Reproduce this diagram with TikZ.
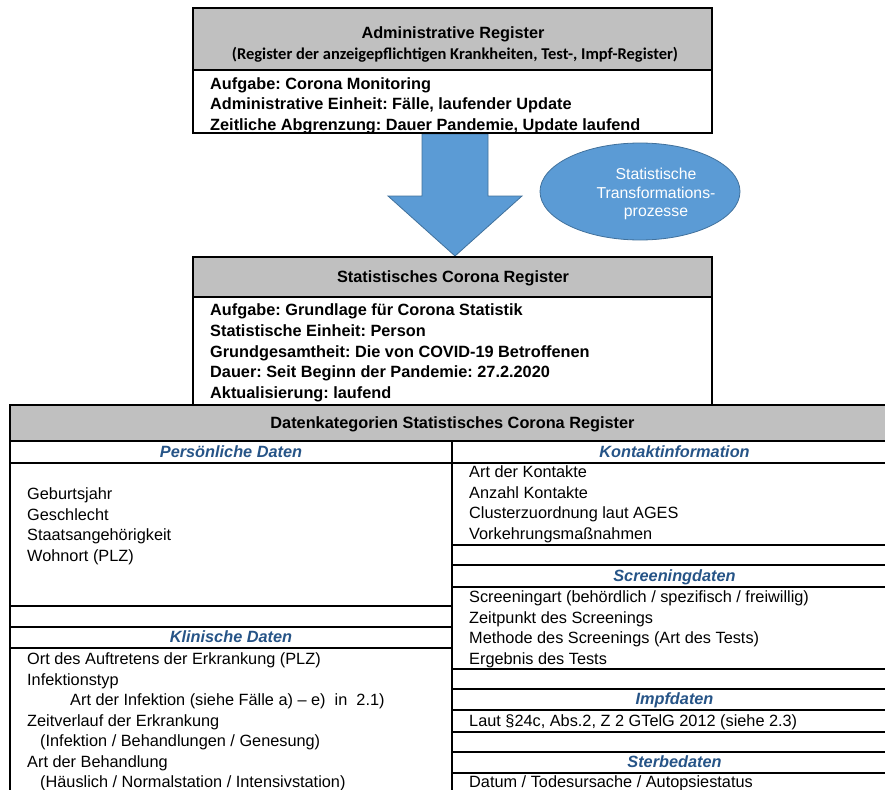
\documentclass[tikz,border=0pt]{standalone}
\usepackage{fontspec}
\usetikzlibrary{shapes.geometric}
\setmainfont{Liberation Sans}
\newfontfamily\calib{Carlito}
\definecolor{headgray}{RGB}{192,192,192}
\definecolor{subblue}{RGB}{38,84,135}
\definecolor{shapeblue}{RGB}{91,155,213}
\definecolor{shapeedge}{RGB}{65,113,156}
\frenchspacing
\begin{document}
\begin{tikzpicture}[x=1pt,y=-1pt,
  bx/.style={draw=black,line width=2pt},
  txt/.style={anchor=base west,inner sep=0pt,font=\fontsize{16.3}{20}\selectfont},
  btxt/.style={anchor=base west,inner sep=0pt,font=\fontsize{16.3}{20}\selectfont\bfseries},
  ctitle/.style={anchor=base,inner sep=0pt,font=\fontsize{16.3}{20}\selectfont\bfseries},
  subhead/.style={anchor=base,inner sep=0pt,text=subblue,font=\fontsize{16.3}{20}\selectfont\bfseries\itshape},
  blueshape/.style={fill=shapeblue,draw=shapeedge,line width=0.8pt}]
\useasboundingbox (0,0) rectangle (885,789);
\clip (0,0) rectangle (885,789);

% block arrow
\draw[blueshape] (422,134) -- (488,134) -- (488,196) -- (522,196) -- (455,256) -- (388,196) -- (422,196) -- cycle;

% ellipse
\node[blueshape,ellipse,minimum width=200,minimum height=97,inner sep=0pt] (ell) at (640,191.5) {};
\node[align=center,text=white,inner sep=0pt,font=\fontsize{15.8}{18.5}\selectfont] (elltext) at (656,194) {Statistische\\Transformations-\\prozesse};

% top box
\fill[headgray] (193,8) rectangle (712,70);
\draw[bx] (193,8) rectangle (712,133);
\draw[bx] (193,70) -- (712,70);
\node[ctitle] (adm) at (453,38.5) {Administrative Register};
\node[anchor=base,inner sep=0pt,font=\calib\bfseries\fontsize{16.5}{20}\selectfont] (admsub) at (455,60) {(Register der anzeigepflichtigen Krankheiten, Test-, Impf-Register)};
\node[btxt] (a1) at (210,90) {Aufgabe: Corona Monitoring};
\node[btxt] (a2) at (210,110) {Administrative Einheit: Fälle, laufender Update};
\node[btxt] (a3) at (210,130) {Zeitliche Abgrenzung: Dauer Pandemie, Update laufend};

% middle box
\fill[headgray] (193,257) rectangle (712,297);
\draw[bx] (193,405) -- (193,257) -- (712,257) -- (712,405);
\draw[bx] (193,297) -- (712,297);
\node[ctitle] (scr) at (453,282) {Statistisches Corona Register};
\node[btxt] (s1) at (210,315.5) {Aufgabe: Grundlage für Corona Statistik};
\node[btxt] (s2) at (210,336) {Statistische Einheit: Person};
\node[btxt] (s3) at (210,357) {Grundgesamtheit: Die von COVID-19 Betroffenen};
\node[btxt] (s4) at (210,377.5) {Dauer: Seit Beginn der Pandemie: 27.2.2020};
\node[btxt] (s5) at (210,398.5) {Aktualisierung: laufend};

% table
\fill[headgray] (10,405) rectangle (897,441);
\draw[bx] (10,800) -- (10,405) -- (897,405) -- (897,800);
\draw[bx] (10,441) -- (897,441);
\draw[bx] (10,463) -- (897,463);
\draw[bx] (452,441) -- (452,800);
\foreach \yy in {606,627,648} \draw[bx] (10,\yy) -- (452,\yy);
\foreach \yy in {545,565,587,669,689,710,732,752,773} \draw[bx] (452,\yy) -- (897,\yy);

\node[ctitle] (dk) at (452.5,428.5) {Datenkategorien Statistisches Corona Register};

\node[subhead] (hp) at (231,457.5) {Persönliche Daten};
\node[subhead] (hk) at (674.5,457.5) {Kontaktinformation};
\node[subhead] (hkl) at (231,642.5) {Klinische Daten};
\node[subhead] (hs) at (674.5,581.5) {Screeningdaten};
\node[subhead] (hi) at (674.5,704.5) {Impfdaten};
\node[subhead] (hst) at (674.5,767.5) {Sterbedaten};

% left column
\node[txt] (p1) at (27,499.5) {Geburtsjahr};
\node[txt] (p2) at (27,520) {Geschlecht};
\node[txt] (p3) at (27,540.5) {Staatsangehörigkeit};
\node[txt] (p4) at (27,561) {Wohnort (PLZ)};

\node[txt] (k1) at (27,664.5) {Ort des Auftretens der Erkrankung (PLZ)};
\node[txt] (k2) at (27,685) {Infektionstyp};
\node[txt] (k3) at (70,705.5) {Art der Infektion (siehe Fälle a) -- e)\ \ in\ \ 2.1)};
\node[txt] (k4) at (27,726) {Zeitverlauf der Erkrankung};
\node[txt] (k5) at (40,746.5) {(Infektion / Behandlungen / Genesung)};
\node[txt] (k6) at (27,767) {Art der Behandlung};
\node[txt] (k7) at (40,787.5) {(Häuslich / Normalstation / Intensivstation)};

% right column
\node[txt] (c1) at (469,477.5) {Art der Kontakte};
\node[txt] (c2) at (469,498) {Anzahl Kontakte};
\node[txt] (c3) at (469,518.5) {Clusterzuordnung laut AGES};
\node[txt] (c4) at (469,539) {Vorkehrungsmaßnahmen};

\node[txt] (r1) at (469,602.5) {Screeningart (behördlich / spezifisch / freiwillig)};
\node[txt] (r2) at (469,623) {Zeitpunkt des Screenings};
\node[txt] (r3) at (469,643.5) {Methode des Screenings (Art des Tests)};
\node[txt] (r4) at (469,664) {Ergebnis des Tests};

\node[txt] (i1) at (469,726) {Laut §24c, Abs.2, Z 2 GTelG 2012 (siehe 2.3)};
\node[txt] (d1) at (469,787) {Datum / Todesursache / Autopsiestatus};
\end{tikzpicture}
\end{document}
